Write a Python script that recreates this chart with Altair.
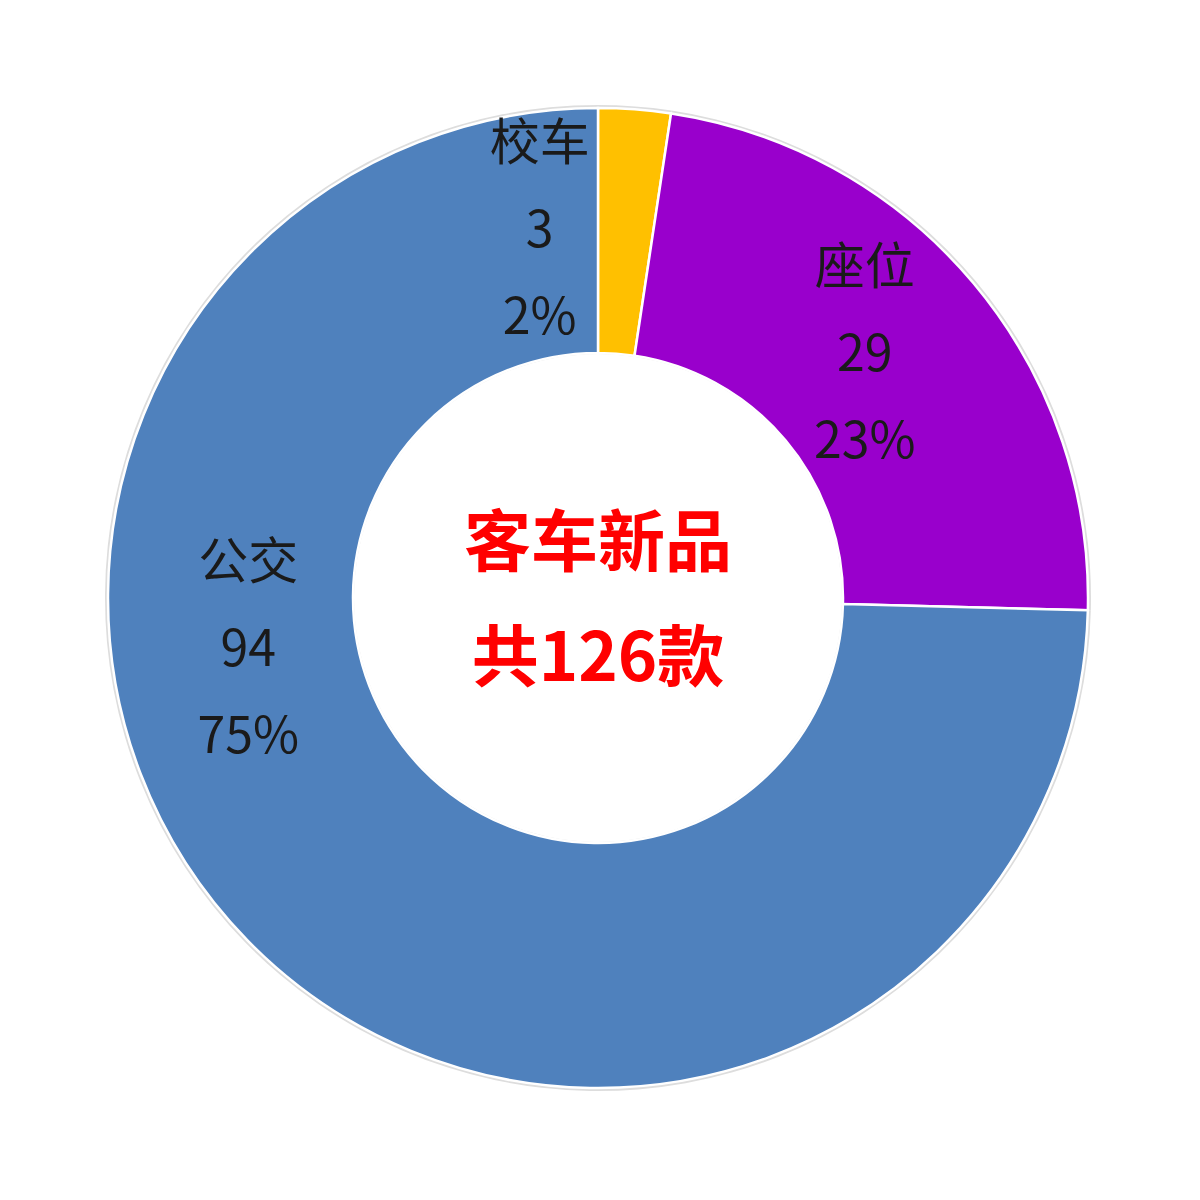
import altair as alt
import pandas as pd

categories = ["校车", "座位", "公交"]
values = [3, 29, 94]
percents = ["2%", "23%", "75%"]
colors = ["#FFC000", "#9900CC", "#4F81BD"]
center_lines = ["客车新品", "共126款"]

labels = [f"{c}\n{v}\n{p}" for c, v, p in zip(categories, values, percents)]
df = pd.DataFrame({
    "cat": categories,
    "value": values,
    "label": labels,
    "idx": list(range(len(categories))),
})

FONT = "Noto Sans CJK SC"
W = 1180
CX = W / 2

base = alt.Chart(df)

theta = alt.Theta("value:Q", stack=True)
order = alt.Order("idx:O", sort="ascending")

shadow = base.mark_arc(innerRadius=244, outerRadius=493, color="#dddddd").encode(
    theta=theta, order=order
)

arcs = base.mark_arc(innerRadius=245, outerRadius=490, stroke="white", strokeWidth=2.5).encode(
    theta=theta,
    order=order,
    color=alt.Color("cat:N", scale=alt.Scale(domain=categories, range=colors), legend=None),
)

offsets = {
    "校车": (370, -86, -84),
    "座位": (360, -9, -98),
    "公交": (360, -92, -285),
}

layers = [shadow, arcs]
for c in categories:
    r, dx, dy = offsets[c]
    layers.append(
        base.mark_text(
            radius=r, dx=dx, dy=dy, lineBreak="\n", lineHeight=87,
            font=FONT, fontSize=50, color="#1a1a1a", baseline="middle", align="center",
        ).transform_calculate(
            lab=f"datum.cat == '{c}' ? datum.label : ''"
        ).encode(theta=theta, order=order, text="lab:N")
    )

center_df = pd.DataFrame({"t": ["\n".join(center_lines)]})
center = alt.Chart(center_df).mark_text(
    font=FONT, fontSize=67, fontWeight="bold", color="#FF0000",
    lineBreak="\n", lineHeight=115, baseline="middle", align="center", dy=-52,
).encode(text="t:N", x=alt.value(CX), y=alt.value(CX))

chart = alt.layer(*layers, center).properties(
    width=W, height=W, padding=0, autosize=alt.AutoSizeParams(type="none")
).configure_view(stroke=None)

chart.save("out.html", embed_options={"renderer": "svg", "actions": False})
